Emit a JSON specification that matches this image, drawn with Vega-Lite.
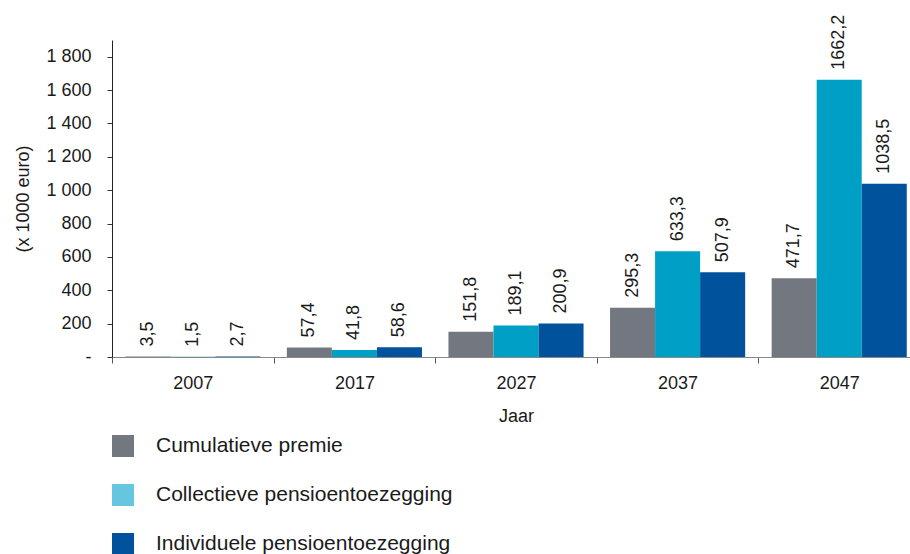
{
  "$schema": "https://vega.github.io/schema/vega-lite/v6.json",
  "autosize": {"type": "none"},
  "padding": {"left": 112, "top": 40, "right": 0, "bottom": 197},
  "width": 808,
  "height": 317,
  "background": "white",
  "config": {
    "locale": {"number": {"decimal": ",", "thousands": " ", "grouping": [3], "currency": ["€", ""]}},
    "font": "Liberation Sans",
    "view": {"stroke": null},
    "axis": {"labelFont": "Liberation Sans", "titleFont": "Liberation Sans", "labelColor": "#1a1a1a", "titleColor": "#1a1a1a", "titleFontWeight": "normal", "labelFontSize": 18, "titleFontSize": 18}
  },
  "data": {
    "values": [
      {"Jaar": "2007", "serie": "Cumulatieve premie", "waarde": 3.5},
      {"Jaar": "2007", "serie": "Collectieve pensioentoezegging", "waarde": 1.5},
      {"Jaar": "2007", "serie": "Individuele pensioentoezegging", "waarde": 2.7},
      {"Jaar": "2017", "serie": "Cumulatieve premie", "waarde": 57.4},
      {"Jaar": "2017", "serie": "Collectieve pensioentoezegging", "waarde": 41.8},
      {"Jaar": "2017", "serie": "Individuele pensioentoezegging", "waarde": 58.6},
      {"Jaar": "2027", "serie": "Cumulatieve premie", "waarde": 151.8},
      {"Jaar": "2027", "serie": "Collectieve pensioentoezegging", "waarde": 189.1},
      {"Jaar": "2027", "serie": "Individuele pensioentoezegging", "waarde": 200.9},
      {"Jaar": "2037", "serie": "Cumulatieve premie", "waarde": 295.3},
      {"Jaar": "2037", "serie": "Collectieve pensioentoezegging", "waarde": 633.3},
      {"Jaar": "2037", "serie": "Individuele pensioentoezegging", "waarde": 507.9},
      {"Jaar": "2047", "serie": "Cumulatieve premie", "waarde": 471.7},
      {"Jaar": "2047", "serie": "Collectieve pensioentoezegging", "waarde": 1662.2},
      {"Jaar": "2047", "serie": "Individuele pensioentoezegging", "waarde": 1038.5}
    ]
  },
  "encoding": {
    "x": {
      "field": "Jaar", "type": "ordinal", "title": "Jaar",
      "scale": {"paddingInner": 0, "paddingOuter": 0},
      "axis": {"labelAngle": 0, "tickBand": "extent", "tickSize": 6, "tickColor": "#555", "domainColor": "#888", "labelPadding": 11, "titlePadding": 15}
    },
    "xOffset": {
      "field": "serie", "type": "nominal",
      "sort": ["Cumulatieve premie", "Collectieve pensioentoezegging", "Individuele pensioentoezegging"],
      "scale": {"paddingInner": 0, "paddingOuter": 0.294}
    },
    "y": {
      "field": "waarde", "type": "quantitative", "title": "(x 1000 euro)",
      "scale": {"domain": [0, 1900], "nice": false},
      "axis": {"values": [0, 200, 400, 600, 800, 1000, 1200, 1400, 1600, 1800], "labelExpr": "datum.value === 0 ? '-' : (datum.value >= 1000 ? floor(datum.value / 1000) + ' ' + substring('' + datum.value, 1) : '' + datum.value)", "grid": false, "tickSize": 5, "tickColor": "#333", "domainColor": "#222", "labelPadding": 16, "titlePadding": 13}
    }
  },
  "layer": [
    {
      "mark": {"type": "bar"},
      "encoding": {
        "fill": {
          "field": "serie", "type": "nominal",
          "scale": {"range": ["#00a0c6", "#737880", "#00529c"]},
          "legend": null
        }
      }
    },
    {
      "mark": {"type": "square", "size": 0, "filled": true, "opacity": 1},
      "encoding": {
        "color": {
          "field": "serie", "type": "nominal",
          "scale": {"domain": ["Cumulatieve premie", "Collectieve pensioentoezegging", "Individuele pensioentoezegging"], "range": ["#737880", "#66c6e0", "#00529c"]},
          "legend": {
            "title": null, "orient": "none", "legendX": 0, "legendY": 395,
            "symbolType": "square", "symbolSize": 484, "symbolStrokeWidth": 0, "symbolOpacity": 1,
            "labelFontSize": 21, "labelFont": "Liberation Sans", "labelColor": "#1a1a1a", "labelLimit": 600,
            "rowPadding": 27, "labelOffset": 22
          }
        }
      }
    },
    {
      "mark": {"type": "text", "angle": 270, "align": "left", "baseline": "middle", "dx": 10, "fontSize": 18, "color": "#1a1a1a"},
      "encoding": {
        "text": {"field": "waarde", "type": "quantitative", "format": ".1f"}
      }
    }
  ]
}
